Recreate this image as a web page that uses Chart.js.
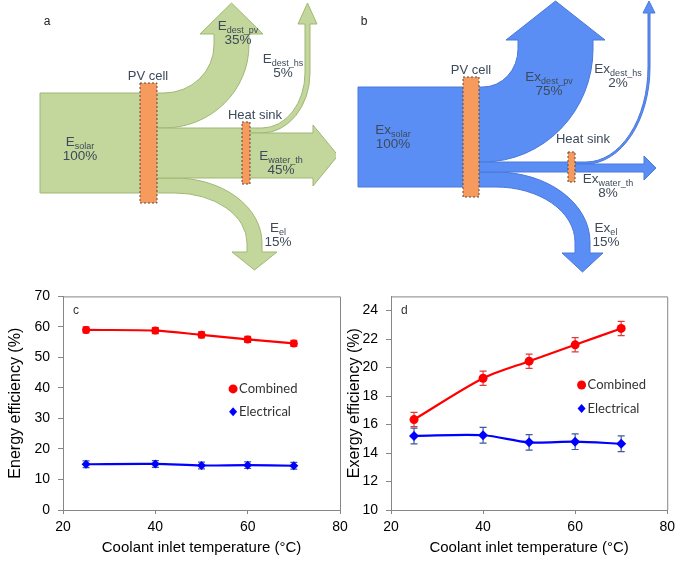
<!DOCTYPE html>
<html>
<head>
<meta charset="utf-8">
<script src="https://cdn.jsdelivr.net/npm/chart.js@4.4.1/dist/chart.umd.min.js"></script>
<style>
  html, body { margin: 0; padding: 0; background: #fff; width: 676px; height: 565px; overflow: hidden; }
  canvas { position: absolute; }
  #sankeyA { left: 0; top: 0; }
  #sankeyB { left: 336px; top: 0; }
  #energyChart { left: 0; top: 280px; }
  #exergyChart { left: 340px; top: 280px; }
</style>
</head>
<body>
<canvas id="sankeyA" width="336" height="280"></canvas>
<canvas id="sankeyB" width="340" height="280"></canvas>
<canvas id="energyChart" width="360" height="285"></canvas>
<canvas id="exergyChart" width="340" height="285"></canvas>
<script>
// ---- data ----
// flow shares (%): solar input, destroyed in PV, destroyed in heat sink, water thermal, electrical
var flowNames = ['solar', 'dest_pv', 'dest_hs', 'water_th', 'el'];
var energyShares = [100, 35, 5, 45, 15];
var exergyShares = [100, 75, 2, 8, 15];

var coolantTemp = [25, 40, 50, 60, 70];
var energyCombined = [59.0, 58.8, 57.4, 55.9, 54.6];
var energyCombinedErr = [1.0, 1.0, 1.0, 1.0, 1.0];
var energyElectrical = [15.0, 15.1, 14.6, 14.7, 14.5];
var energyElectricalErr = [1.1, 1.1, 1.1, 1.1, 1.1];
var exergyCombined = [16.35, 19.25, 20.45, 21.6, 22.75];
var exergyCombinedErr = [0.5, 0.5, 0.5, 0.5, 0.5];
var exergyElectrical = [15.2, 15.25, 14.75, 14.8, 14.65];
var exergyElectricalErr = [0.55, 0.55, 0.55, 0.55, 0.55];

var tempTicks = [20, 40, 60, 80];
var energyTicks = [0, 10, 20, 30, 40, 50, 60, 70];
var exergyTicks = [10, 12, 14, 16, 18, 20, 22, 24];

var FONT = '"Liberation Sans", Arial, sans-serif';

// ---- sankey panels (a, b) ----
function subText(ctx, main, sub, cx, cy, size, color) {
  ctx.fillStyle = color;
  ctx.textBaseline = 'middle';
  ctx.textAlign = 'left';
  ctx.font = size + 'px ' + FONT;
  var w1 = ctx.measureText(main).width;
  var small = Math.round(size * 0.7) + 'px ' + FONT;
  ctx.font = small;
  var w2 = sub ? ctx.measureText(sub).width : 0;
  var x = cx - (w1 + w2) / 2;
  ctx.font = size + 'px ' + FONT;
  ctx.fillText(main, x, cy);
  if (sub) {
    ctx.font = small;
    ctx.fillText(sub, x + w1, cy + size * 0.3);
  }
}

function sankeyPlugin(shares, prefix, L, fill, edge) {
  return {
    id: 'sankeyFlows',
    afterDraw: function (chart) {
      var ctx = chart.ctx;
      var sx = chart.scales.x, sy = chart.scales.y;
      var X = function (v) { return sx.getPixelForValue(v); };
      var Y = function (v) { return sy.getPixelForValue(v); };
      var kx = X(1) - X(0), ky = Y(1) - Y(0);
      var u = L.unit;
      var top = L.top, bottom = top + shares[0] * u;
      var wPv = shares[1] * u, wHs = shares[2] * u, wWater = shares[3] * u, wEl = shares[4] * u;
      var midTop = top + wPv;
      var pvRight = L.pvX + L.pvW;
      var hsRight = L.hsX + L.hsW;

      function M(x, y) { ctx.moveTo(X(x), Y(y)); }
      function Ln(x, y) { ctx.lineTo(X(x), Y(y)); }
      function El(x, y, rx, ry, a0, a1, ccw) { ctx.ellipse(X(x), Y(y), rx * kx, ry * ky, 0, a0, a1, ccw); }
      function shape(draw) {
        ctx.beginPath(); draw(); ctx.closePath();
        ctx.fillStyle = fill; ctx.fill();
        ctx.strokeStyle = edge; ctx.lineWidth = 1; ctx.setLineDash([]); ctx.stroke();
      }
      // flow leaving horizontally then turning up into an arrow
      function upFlow(xs, yTop, w, f) {
        var cy = yTop - f.ry, xr = f.x + f.rx;
        M(xs, yTop); Ln(f.x, yTop);
        El(f.x, cy, f.rx, f.ry, Math.PI / 2, 0, true);
        Ln(xr, f.headY); Ln(xr - f.over, f.headY); Ln(xr + w / 2, f.tipY);
        Ln(xr + w + f.over, f.headY); Ln(xr + w, f.headY); Ln(xr + w, cy);
        El(f.x, cy, f.rx + w, f.ry + w, 0, Math.PI / 2, false);
        Ln(xs, yTop + w);
      }
      // flow leaving horizontally then turning down into an arrow
      function downFlow(xs, yBot, w, f) {
        var cy = yBot + f.ry, xr = f.x + f.rx;
        M(xs, yBot - w); Ln(f.x, yBot - w);
        El(f.x, cy, f.rx + w, f.ry + w, -Math.PI / 2, 0, false);
        Ln(xr + w, f.headY); Ln(xr + w + f.over, f.headY); Ln(xr + w / 2, f.tipY);
        Ln(xr - f.over, f.headY); Ln(xr, f.headY); Ln(xr, cy);
        El(f.x, cy, f.rx, f.ry, 0, -Math.PI / 2, true);
        Ln(xs, yBot);
      }
      function rightFlow(xs, yTop, w, f) {
        M(xs, yTop); Ln(f.headX, yTop); Ln(f.headX, yTop - f.over);
        Ln(f.tipX, yTop + w / 2);
        Ln(f.headX, yTop + w + f.over); Ln(f.headX, yTop + w); Ln(xs, yTop + w);
      }

      ctx.save();
      shape(function () { M(L.inX, top); Ln(L.pvX + 1, top); Ln(L.pvX + 1, bottom); Ln(L.inX, bottom); });
      shape(function () { upFlow(pvRight - 1, top, wPv, L.pvUp); });
      shape(function () { downFlow(pvRight - 1, bottom, wEl, L.elDown); });
      shape(function () { M(pvRight - 1, midTop); Ln(L.hsX + 1, midTop); Ln(L.hsX + 1, midTop + wHs + wWater); Ln(pvRight - 1, midTop + wHs + wWater); });
      shape(function () { upFlow(hsRight - 1, midTop, wHs, L.hsUp); });
      shape(function () { rightFlow(hsRight - 1, midTop + wHs, wWater, L.water); });

      // PV cell and heat sink blocks
      function block(x, y, w, h) {
        ctx.beginPath();
        ctx.rect(X(x), Y(y), w * kx, h * ky);
        ctx.fillStyle = '#f79a5e'; ctx.fill();
        ctx.setLineDash([2, 2]); ctx.strokeStyle = '#5b4a3f'; ctx.lineWidth = 1; ctx.stroke();
        ctx.setLineDash([]);
      }
      block(L.pvX, top - L.pvExt, L.pvW, shares[0] * u + 2 * L.pvExt);
      block(L.hsX, midTop - L.hsExt, L.hsW, wHs + wWater + 2 * L.hsExt);

      // texts
      var tc = '#3d4a59';
      subText(ctx, L.letter, '', X(L.letterAt[0]), Y(L.letterAt[1]), 12, '#222');
      subText(ctx, 'PV cell', '', X(L.pvLabel[0]), Y(L.pvLabel[1]), 13, tc);
      subText(ctx, 'Heat sink', '', X(L.hsLabel[0]), Y(L.hsLabel[1]), 13, tc);
      for (var i = 0; i < shares.length; i++) {
        var p = L.labelAt[i];
        subText(ctx, prefix, flowNames[i], X(p[0]), Y(p[1]), 13.5, tc);
        subText(ctx, shares[i] + '%', '', X(p[0]), Y(p[1] + 14), 13.5, tc);
      }
      ctx.restore();
    }
  };
}

function sankeyChart(id, width, shares, prefix, L, fill, edge) {
  return new Chart(document.getElementById(id), {
    type: 'scatter',
    data: { datasets: [] },
    options: {
      responsive: false,
      animation: false,
      layout: { padding: 0 },
      scales: {
        x: { type: 'linear', min: 0, max: width, display: false },
        y: { type: 'linear', min: 0, max: 280, reverse: true, display: false }
      },
      plugins: { legend: { display: false }, tooltip: { enabled: false } }
    },
    plugins: [sankeyPlugin(shares, prefix, L, fill, edge)]
  });
}

sankeyChart('sankeyA', 336, energyShares, 'E', {
  unit: 1, inX: 40, top: 93,
  pvX: 140, pvW: 17, pvExt: 10,
  hsX: 242, hsW: 8, hsExt: 6,
  pvUp: { x: 164, rx: 50, ry: 48, headY: 34, tipY: 3, over: 14 },
  elDown: { x: 175, rx: 72, ry: 50, headY: 252, tipY: 270, over: 15 },
  hsUp: { x: 262, rx: 43, ry: 55, headY: 24, tipY: 3, over: 7 },
  water: { headX: 313, tipX: 338, over: 8 },
  letter: 'a', letterAt: [47, 22],
  pvLabel: [148, 76], hsLabel: [255, 115],
  labelAt: [[80, 142], [238, 26], [283, 59], [281, 156], [278, 228]]
}, '#c3d69b', '#9fb874');

sankeyChart('sankeyB', 340, exergyShares, 'Ex', {
  unit: 1, inX: 22, top: 87,
  pvX: 127, pvW: 16, pvExt: 10,
  hsX: 232, hsW: 7, hsExt: 10,
  pvUp: { x: 147, rx: 35, ry: 38, headY: 40, tipY: 1, over: 12 },
  elDown: { x: 160, rx: 79, ry: 55, headY: 253, tipY: 272, over: 13 },
  hsUp: { x: 250, rx: 62, ry: 95, headY: 13, tipY: 1, over: 5 },
  water: { headX: 308, tipX: 320, over: 8 },
  letter: 'b', letterAt: [28, 22],
  pvLabel: [135, 70], hsLabel: [247, 139],
  labelAt: [[57, 130], [213, 77], [282, 69], [272, 179], [270, 228]]
}, '#5b8ef5', '#4a78d8');

// ---- line charts (c, d) ----
function points(ys) {
  return coolantTemp.map(function (t, i) { return { x: t, y: ys[i] }; });
}

var errorBars = {
  id: 'errorBars',
  beforeDatasetsDraw: function (chart) {
    var ctx = chart.ctx, ys = chart.scales.y;
    ctx.save();
    chart.data.datasets.forEach(function (ds, di) {
      var meta = chart.getDatasetMeta(di);
      ctx.strokeStyle = ds.errorColor;
      ctx.lineWidth = 1.2;
      meta.data.forEach(function (pt, i) {
        var v = ds.data[i].y, e = ds.errors[i];
        var y1 = ys.getPixelForValue(v + e), y2 = ys.getPixelForValue(v - e);
        ctx.beginPath();
        ctx.moveTo(pt.x, y1); ctx.lineTo(pt.x, y2);
        ctx.moveTo(pt.x - 3.5, y1); ctx.lineTo(pt.x + 3.5, y1);
        ctx.moveTo(pt.x - 3.5, y2); ctx.lineTo(pt.x + 3.5, y2);
        ctx.stroke();
      });
    });
    ctx.restore();
  }
};

var frameAndLegend = {
  id: 'frameAndLegend',
  afterDraw: function (chart) {
    var ctx = chart.ctx, a = chart.chartArea;
    var o = chart.options.plugins.frameAndLegend;
    ctx.save();
    ctx.strokeStyle = '#868686';
    ctx.lineWidth = 1;
    ctx.beginPath();
    ctx.moveTo(a.left, a.top + 0.5); ctx.lineTo(a.right + 0.5, a.top + 0.5); ctx.lineTo(a.right + 0.5, a.bottom);
    ctx.stroke();
    ctx.fillStyle = '#333';
    ctx.font = '12px ' + FONT;
    ctx.textBaseline = 'middle';
    ctx.textAlign = 'left';
    ctx.fillText(o.letter, a.left + 10, a.top + 14);
    chart.data.datasets.forEach(function (ds, i) {
      var x = a.left + o.legendX * (a.right - a.left);
      var y = a.top + o.legendY[i] * (a.bottom - a.top);
      ctx.fillStyle = ds.borderColor;
      ctx.beginPath();
      if (ds.pointStyle === 'rectRot') {
        ctx.moveTo(x, y - 4.5); ctx.lineTo(x + 4, y); ctx.lineTo(x, y + 4.5); ctx.lineTo(x - 4, y);
      } else {
        ctx.arc(x, y, 4.5, 0, Math.PI * 2);
      }
      ctx.closePath();
      ctx.fill();
      ctx.fillStyle = '#333';
      ctx.font = '13px Lato, "Open Sans", sans-serif';
      ctx.fillText(ds.label, x + 6, y);
    });
    ctx.restore();
  }
};

function efficiencyChart(id, combined, combinedErr, electrical, electricalErr, yMin, yMax, yTicks, yTitle, opts) {
  return new Chart(document.getElementById(id), {
    type: 'line',
    data: {
      datasets: [{
        label: 'Combined',
        data: points(combined),
        errors: combinedErr,
        errorColor: '#e03a3a',
        borderColor: '#ff0000',
        backgroundColor: '#ff0000',
        borderWidth: 2.2,
        pointStyle: 'circle',
        pointRadius: opts.dotRadius,
        pointBorderWidth: 0,
        tension: 0.3
      }, {
        label: 'Electrical',
        data: points(electrical),
        errors: electricalErr,
        errorColor: '#3d5a9c',
        borderColor: '#0000ff',
        backgroundColor: '#0000ff',
        borderWidth: 2.2,
        pointStyle: 'rectRot',
        pointRadius: opts.diamondRadius,
        pointBorderWidth: 0,
        tension: 0.3
      }]
    },
    options: {
      responsive: false,
      animation: false,
      layout: { padding: { left: 0, right: opts.padRight, top: 13, bottom: 0 } },
      scales: {
        x: {
          type: 'linear', min: 20, max: 80,
          afterBuildTicks: function (s) { s.ticks = tempTicks.map(function (v) { return { value: v }; }); },
          afterFit: function (s) { s.height = 55; },
          grid: { drawOnChartArea: false, drawTicks: true, tickLength: 4, color: '#868686' },
          border: { display: true, color: '#868686', width: 1 },
          ticks: { color: '#000', font: { size: 14, family: FONT }, padding: 5, maxRotation: 0 },
          title: { display: true, text: 'Coolant inlet temperature (°C)', color: '#000', font: { size: 15, family: FONT }, padding: { top: 0, bottom: 8 } }
        },
        y: {
          type: 'linear', min: yMin, max: yMax, bounds: 'data',
          afterBuildTicks: function (s) { s.ticks = yTicks.map(function (v) { return { value: v }; }); },
          afterFit: function (s) { s.width = opts.yWidth; },
          grid: { drawOnChartArea: false, drawTicks: true, tickLength: 5, color: '#868686' },
          border: { display: true, color: '#868686', width: 1 },
          ticks: { color: '#000', font: { size: 14, family: FONT }, padding: 8 },
          title: { display: true, text: yTitle, color: '#000', font: { size: 16, family: FONT }, padding: { top: opts.titlePad, bottom: 0 } }
        }
      },
      plugins: {
        legend: { display: false },
        tooltip: { enabled: false },
        frameAndLegend: { letter: opts.letter, legendX: opts.legendX, legendY: opts.legendY }
      }
    },
    plugins: [errorBars, frameAndLegend]
  });
}

efficiencyChart('energyChart', energyCombined, energyCombinedErr, energyElectrical, energyElectricalErr,
  0, 70, energyTicks, 'Energy efficiency (%)',
  { padRight: 20, yWidth: 63, titlePad: 6, dotRadius: 4, diamondRadius: 4.5, letter: 'c', legendX: 0.614, legendY: [0.433, 0.54] });

efficiencyChart('exergyChart', exergyCombined, exergyCombinedErr, exergyElectrical, exergyElectricalErr,
  10, 25, exergyTicks, 'Exergy efficiency (%)',
  { padRight: 11, yWidth: 51, titlePad: 5, dotRadius: 4.5, diamondRadius: 5, letter: 'd', legendX: 0.69, legendY: [0.415, 0.525] });
</script>
</body>
</html>
